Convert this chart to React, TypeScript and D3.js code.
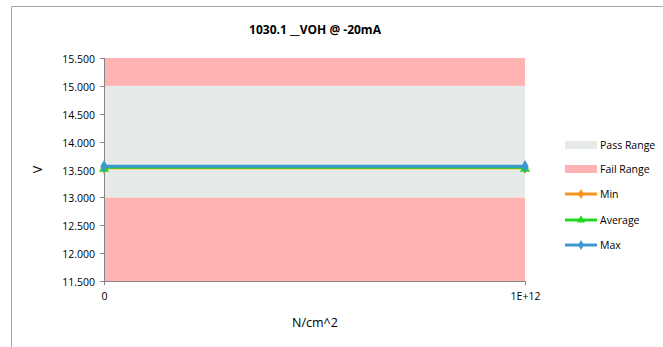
import React, { useEffect, useRef } from 'react';
import * as d3 from 'd3';

// chart data
const xValues = [0, 1e12];
const minValues = [13.53, 13.53];
const avgValues = [13.54, 13.54];
const maxValues = [13.56, 13.56];
const passRange = [13.0, 15.0];
const failLow = [11.5, 13.0];
const failHigh = [15.0, 15.5];
const yTicks = [11.5, 12, 12.5, 13, 13.5, 14, 14.5, 15, 15.5];
const xTickLabels = ['0', '1E+12'];
const legendItems = ['Pass Range', 'Fail Range', 'Min', 'Average', 'Max'];

const FONT = 'Open Sans, Liberation Sans, sans-serif';

export default function App() {
  const ref = useRef<SVGSVGElement>(null);

  useEffect(() => {
    if (!ref.current) return;
    const svg = d3.select(ref.current);
    svg.selectAll('*').remove();

    const width = 663;
    const height = 347;
    const plot = { left: 104, right: 525, top: 58, bottom: 281 };

    const x = d3.scaleLinear().domain([0, 1e12]).range([plot.left, plot.right]);
    const y = d3.scaleLinear().domain([11.5, 15.5]).range([plot.bottom, plot.top]);

    svg.append('rect').attr('width', width).attr('height', height).attr('fill', '#fff');

    // chart frame (only top and left visible)
    svg.append('line').attr('x1', 11.5).attr('x2', width).attr('y1', 6.5).attr('y2', 6.5)
      .attr('stroke', '#a6a6a6').attr('stroke-width', 1);
    svg.append('line').attr('x1', 11.5).attr('x2', 11.5).attr('y1', 6.5).attr('y2', height)
      .attr('stroke', '#a6a6a6').attr('stroke-width', 1);

    // title
    svg.append('text').attr('x', 315).attr('y', 34).attr('text-anchor', 'middle')
      .attr('font-family', FONT).attr('font-size', 12).attr('font-weight', 'bold')
      .attr('fill', '#000').text('1030.1 __VOH @ -20mA');

    // bands
    const bands = [
      { r: failLow, c: '#ffb3b3' },
      { r: passRange, c: '#e6ebea' },
      { r: failHigh, c: '#ffb3b3' },
    ];
    svg.selectAll('.band').data(bands).enter().append('rect')
      .attr('x', x(0)).attr('width', x(1e12) - x(0))
      .attr('y', d => y(d.r[1])).attr('height', d => y(d.r[0]) - y(d.r[1]))
      .attr('fill', d => d.c);

    // axes
    const axisColor = '#868686';
    svg.append('line').attr('x1', plot.left + 0.5).attr('x2', plot.left + 0.5)
      .attr('y1', plot.top).attr('y2', plot.bottom).attr('stroke', axisColor);
    svg.append('line').attr('x1', plot.left).attr('x2', plot.right)
      .attr('y1', plot.bottom + 0.5).attr('y2', plot.bottom + 0.5).attr('stroke', axisColor);
    yTicks.forEach(t => {
      const yy = Math.round(y(t)) + 0.5;
      svg.append('line').attr('x1', plot.left - 4).attr('x2', plot.left)
        .attr('y1', yy).attr('y2', yy).attr('stroke', axisColor);
      svg.append('text').attr('x', plot.left - 9).attr('y', yy + 4).attr('text-anchor', 'end')
        .attr('font-family', FONT).attr('font-size', 10.5).attr('fill', '#000')
        .text(d3.format('.3f')(t));
    });
    xValues.forEach((v, i) => {
      const xx = Math.round(x(v)) + 0.5;
      svg.append('line').attr('x1', xx).attr('x2', xx)
        .attr('y1', plot.bottom).attr('y2', plot.bottom + 4).attr('stroke', axisColor);
      svg.append('text').attr('x', xx).attr('y', plot.bottom + 19).attr('text-anchor', 'middle')
        .attr('font-family', FONT).attr('font-size', 10.5).attr('fill', '#000')
        .text(xTickLabels[i]);
    });

    // axis titles
    svg.append('text').attr('x', 315).attr('y', 327).attr('text-anchor', 'middle')
      .attr('font-family', FONT).attr('font-size', 12.5).attr('fill', '#000').text('N/cm^2');
    svg.append('text').attr('transform', `translate(38, ${y(13.5)}) rotate(-90)`)
      .attr('text-anchor', 'middle').attr('dy', 4)
      .attr('font-family', FONT).attr('font-size', 12.5).attr('fill', '#000').text('V');

    // series
    const series = [
      { name: 'Min', vals: minValues, color: '#f7941d', marker: d3.symbolDiamond },
      { name: 'Average', vals: avgValues, color: '#22d622', marker: d3.symbolTriangle },
      { name: 'Max', vals: maxValues, color: '#3a9ad0', marker: d3.symbolDiamond },
    ];
    const line = d3.line<number>().x((d, i) => x(xValues[i])).y(d => y(d));
    series.forEach(s => {
      svg.append('path').datum(s.vals).attr('d', line).attr('fill', 'none')
        .attr('stroke', s.color).attr('stroke-width', 3);
      s.vals.forEach((v, i) => {
        svg.append('path').attr('d', d3.symbol().type(s.marker).size(45)())
          .attr('transform', `translate(${x(xValues[i])}, ${y(v) + (s.marker === d3.symbolTriangle ? 1.5 : 0)})`)
          .attr('fill', s.color);
      });
    });

    // legend
    const lx = 565;
    const rowY = [145, 169, 194, 220, 245];
    legendItems.forEach((name, i) => {
      const cy = rowY[i];
      if (i < 2) {
        svg.append('rect').attr('x', lx).attr('y', cy - 4).attr('width', 32).attr('height', 8)
          .attr('fill', i === 0 ? '#e6ebea' : '#ffb3b3');
      } else {
        const s = series[i - 2];
        svg.append('line').attr('x1', lx).attr('x2', lx + 32).attr('y1', cy).attr('y2', cy)
          .attr('stroke', s.color).attr('stroke-width', 3);
        svg.append('path').attr('d', d3.symbol().type(s.marker).size(30)())
          .attr('transform', `translate(${lx + 16}, ${cy})`).attr('fill', s.color);
      }
      svg.append('text').attr('x', lx + 35).attr('y', cy + 4)
        .attr('font-family', FONT).attr('font-size', 10.5).attr('fill', '#000').text(name);
    });
  }, []);

  return <svg ref={ref} width={663} height={347} style={{ display: 'block', position: 'absolute', left: 0, top: 0 }} />;
}
